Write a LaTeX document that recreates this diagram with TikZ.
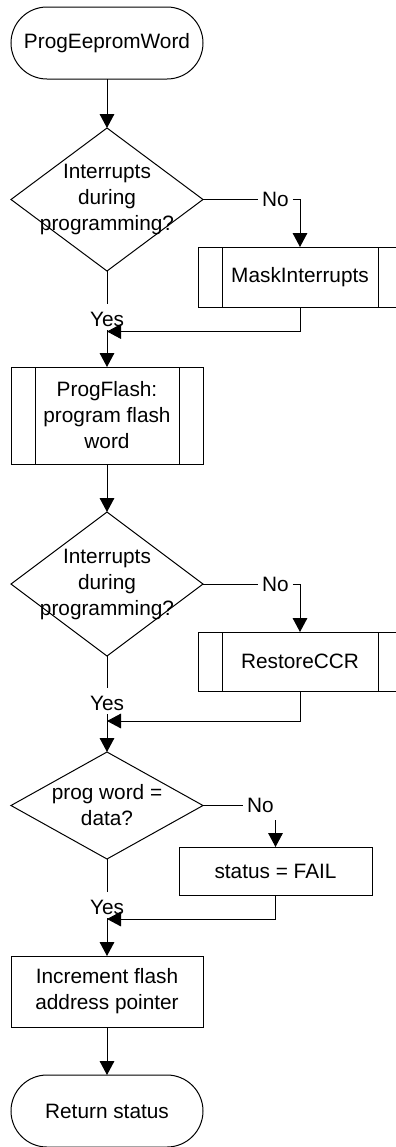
\documentclass[tikz,border=0pt]{standalone}
\usepackage{fontspec}
\setmainfont{Liberation Sans}
\usetikzlibrary{arrows.meta,shapes.geometric}
\newdimen\pxu \pxu=0.75pt
\begin{document}
\begin{tikzpicture}[x=0.75pt,y=-0.75pt,
  txt/.style={font=\fontsize{15.6pt}{19.5pt}\selectfont, align=center},
  base/.style={txt, draw=black, line width=0.75pt, inner sep=0pt, outer sep=0pt},
  term/.style={base, rectangle, rounded corners=36\pxu, minimum width=192\pxu, minimum height=72\pxu},
  proc/.style={base, rectangle},
  sub/.style={proc, path picture={
     \draw[line width=0.75pt]
       ([xshift=24\pxu]path picture bounding box.north west) -- ([xshift=24\pxu]path picture bounding box.south west)
       ([xshift=-24\pxu]path picture bounding box.north east) -- ([xshift=-24\pxu]path picture bounding box.south east);}},
  dia/.style={base, diamond, minimum width=192\pxu},
  lbl/.style={txt, inner xsep=2.5pt, inner ysep=0pt, outer sep=0pt},
  yeslbl/.style={lbl, text height=16.5pt, text depth=3pt, anchor=base},
  nolbl/.style={lbl, text height=11.2pt, text depth=0pt, inner xsep=3pt, inner ysep=1pt},
  conn/.style={draw=black, line width=0.75pt},
  arr/.style={conn, -{Triangle[length=10.5pt,width=11pt]}}
]
\useasboundingbox (0,0) rectangle (396,1147);
\clip (0,0) rectangle (396,1147);

% nodes
\node[term] (start) at (107,43) {ProgEepromWord};
\node[dia, minimum height=143\pxu, label={[txt]center:{Interrupts\\during\\programming?}}] (d1) at (107,199.5) {};
\node[sub, minimum width=204\pxu, minimum height=60\pxu] (mask) at (300,277) {MaskInterrupts};
\node[sub, minimum width=192\pxu, minimum height=97\pxu] (pf) at (107,415.5) {ProgFlash:\\program flash\\word};
\node[dia, minimum height=144\pxu, label={[txt]center:{Interrupts\\during\\programming?}}] (d2) at (107,584) {};
\node[sub, minimum width=204\pxu, minimum height=59\pxu] (restore) at (300,661.5) {RestoreCCR};
\node[dia, minimum height=107\pxu, label={[txt]center:{prog word =\\data?}}] (d3) at (107,805.5) {};
\node[proc, minimum width=193\pxu, minimum height=48\pxu] (fail) at (275.5,871) {status = FAIL};
\node[proc, minimum width=192\pxu, minimum height=71\pxu] (inc) at (107,991.5) {Increment flash\\address pointer};
\node[term] (ret) at (107,1111) {Return status};

% labels
\node[nolbl] (no1) at (275.5,199.5) {No};
\node[nolbl] (no2) at (275.5,584) {No};
\node[nolbl] (no3) at (260.5,805.5) {No};
\node[yeslbl] (yes1) at (107,326) {Yes};
\node[yeslbl] (yes2) at (107,710) {Yes};
\node[yeslbl] (yes3) at (107,914) {Yes};

% junctions
\coordinate (j1) at (107,331.5);
\coordinate (j2) at (107,721);
\coordinate (j3) at (107,919);
\coordinate (c3) at (275.5,820);

% connectors
\draw[arr] (start) -- (d1);
\draw[conn] (d1.east) -- (no1);
\draw[arr] (no1.east) -| (mask.north);
\draw[conn] (d1.south) -- (yes1);
\draw[conn] (yes1) -- (j1);
\draw[arr] (mask.south) |- (j1);
\draw[arr] (j1) -- (pf.north);

\draw[arr] (pf) -- (d2);
\draw[conn] (d2.east) -- (no2);
\draw[arr] (no2.east) -| (restore.north);
\draw[conn] (d2.south) -- (yes2);
\draw[conn] (yes2) -- (j2);
\draw[arr] (restore.south) |- (j2);
\draw[arr] (j2) -- (d3.north);

\draw[conn] (d3.east) -- (no3);
\draw[arr] (c3) -- (fail.north);
\draw[conn] (d3.south) -- (yes3);
\draw[conn] (yes3) -- (j3);
\draw[arr] (fail.south) |- (j3);
\draw[arr] (j3) -- (inc.north);

\draw[arr] (inc) -- (ret);
\end{tikzpicture}
\end{document}
